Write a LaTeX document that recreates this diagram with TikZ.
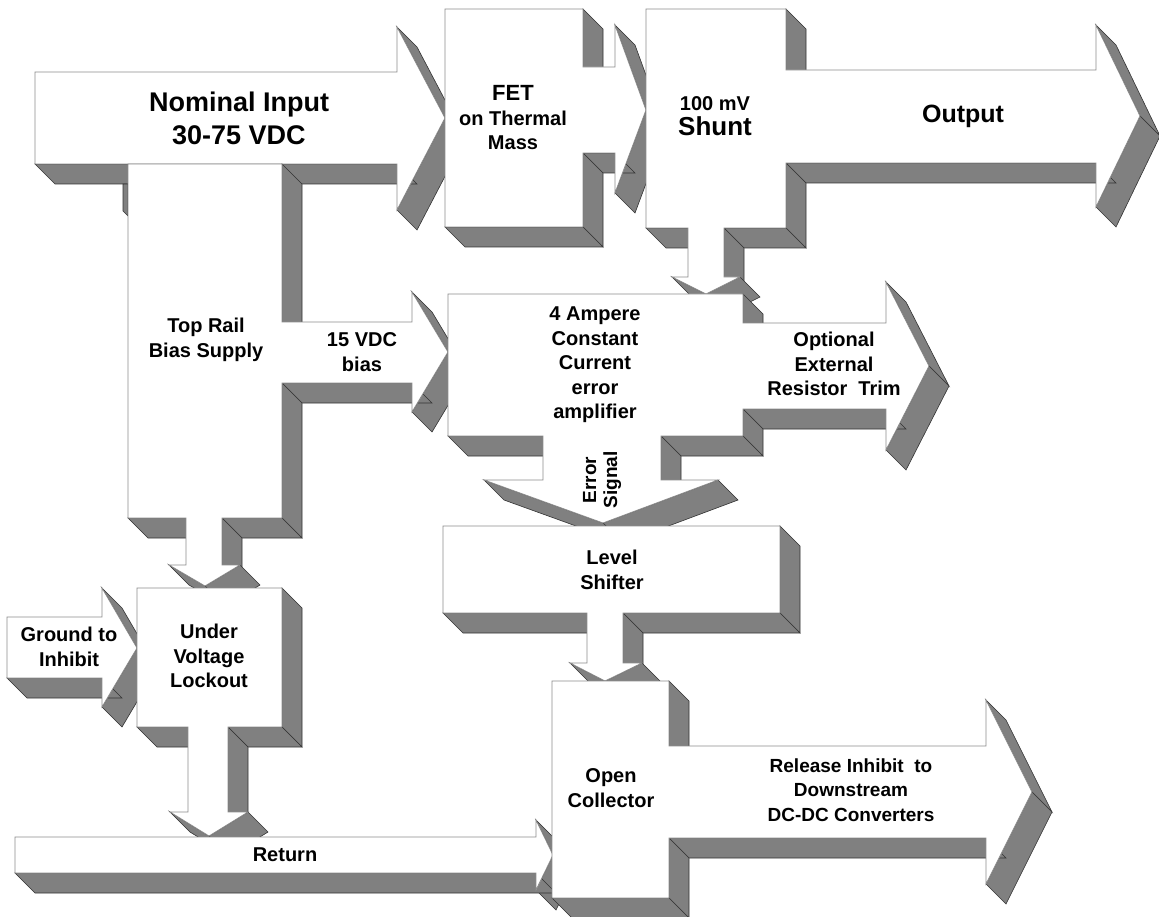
\documentclass[tikz,border=0pt]{standalone}
\usepackage{fontspec}
\setmainfont{Liberation Sans}
\definecolor{shade}{RGB}{128,128,128}
\tikzset{
  side/.style={fill=shade, draw=black!80, line width=0.6pt, line join=miter},
  face/.style={fill=white, draw=black!45, line width=0.8pt},
  lbl/.style={font=\fontsize{20}{24.5}\selectfont\bfseries, align=center, inner sep=0pt, text=black},
}
% #1,#2 first vertex; #3 remaining vertices x/y (screen px, clockwise)
\newcommand\xprism[3]{%
  \foreach \xx/\yy [remember=\xx as \px (initially #1), remember=\yy as \py (initially #2)] in {#3,#1/#2}{%
    \pgfmathsetmacro\vis{((\yy-\py)-(\xx-\px))>0.5}%
    \ifdim\vis pt>0.5pt
      \filldraw[side] (\px,\py) -- (\xx,\yy) -- (\xx+20,\yy+20) -- (\px+20,\py+20) -- cycle;
    \fi
  }%
  \filldraw[face] (#1,#2) \foreach \xx/\yy in {#3} { -- (\xx,\yy) } -- cycle;
}
\begin{document}
\begin{tikzpicture}[x=1pt,y=-1pt]
\fill[white] (0,0) rectangle (1159,917);
\useasboundingbox (0,0) rectangle (1159,917);

% Nominal input
\xprism{35}{72}{397/72, 397/27, 445/118, 397/210, 397/164, 35/164}
% small sliver left of top rail
\filldraw[side] (123,184) -- (128,184) -- (128,216) -- (123,211) -- cycle;
% Top rail bias supply with 15 VDC arrow and down arrow
\xprism{128}{164}{282/164, 282/322, 412/322, 412/292, 448/352, 412/412, 412/383, 282/383, 282/518, 222/518, 222/565, 240/565, 205/586, 169/565, 186/565, 186/518, 128/518}
% FET
\xprism{445}{9}{583/9, 583/67, 615/67, 615/25, 646/110, 615/193, 615/153, 583/153, 583/227, 445/227}
% Shunt with output
\xprism{646}{9}{786/9, 786/70, 1096/70, 1096/25, 1140/116, 1096/207, 1096/163, 786/163, 786/228, 724/228, 724/277, 740/277, 706/294, 672/277, 688/277, 688/228, 646/228}
% 4 Ampere amplifier with optional trim and error signal
\xprism{448}{294}{743/294, 743/323, 886/323, 886/282, 929/366, 886/450, 886/409, 743/409, 743/436, 661/436, 661/480, 718/480, 603/523, 484/480, 543/480, 543/436, 448/436}
% Level shifter
\xprism{443}{526}{780/526, 780/613, 623/613, 623/663, 642/663, 605/681, 570/663, 587/663, 587/613, 443/613}
% Ground to inhibit
\xprism{7}{617}{102/617, 102/588, 137/648, 102/707, 102/678, 7/678}
% Under voltage lockout
\xprism{137}{588}{282/588, 282/727, 228/727, 228/812, 248/812, 209/836, 170/812, 188/812, 188/727, 137/727}
% Return
\xprism{15}{837}{536/837, 536/820, 553/855, 536/890, 536/873, 15/873}
% Open collector with release arrow
\xprism{552}{681}{669/681, 669/746, 986/746, 986/700, 1032/792, 986/884, 986/838, 669/838, 669/898, 552/898}

% labels
\node[lbl, font=\fontsize{27}{33}\selectfont\bfseries] (nom) at (239,118) {Nominal Input\\30-75 VDC};
\node[lbl] (trail) at (206,340) {Top Rail\\Bias Supply};
\node[lbl] (vdc) at (362,352) {15 VDC\\bias};
\node[lbl] (fet) at (513,118) {{\fontsize{22}{26}\selectfont FET}\\on Thermal\\Mass};
\node[lbl] (shunt) at (715,116) {100 mV\\{\fontsize{26}{28}\selectfont Shunt}};
\node[lbl, font=\fontsize{25}{30}\selectfont\bfseries] (out) at (963,116) {Output};
\node[lbl] (amp) at (595,365) {4 Ampere\\Constant\\Current\\error\\amplifier};
\node[lbl] (opt) at (834,364) {Optional\\External\\Resistor \ Trim};
\node[lbl, font=\fontsize{19}{21}\selectfont\bfseries, rotate=90] (err) at (602,480) {Error\\Signal};
\node[lbl] (lvl) at (612,570) {Level\\Shifter};
\node[lbl] (gnd) at (69,647) {Ground to\\Inhibit};
\node[lbl] (uvlo) at (209,656) {Under\\Voltage\\Lockout};
\node[lbl] (ret) at (285,855) {Return};
\node[lbl] (oc) at (611,788) {Open\\Collector};
\node[lbl, font=\fontsize{19}{24.5}\selectfont\bfseries] (rel) at (851,790) {Release Inhibit \ to\\Downstream\\DC-DC Converters};
\end{tikzpicture}
\end{document}
